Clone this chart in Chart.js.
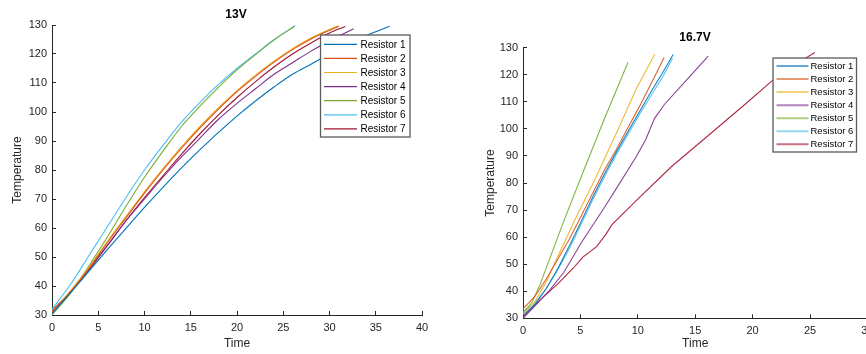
<!DOCTYPE html>
<html>
<head>
<meta charset="utf-8">
<script src="https://cdn.jsdelivr.net/npm/chart.js@4"></script>
<style>
  html, body { margin: 0; padding: 0; background: #fff; overflow: hidden; width: 866px; height: 354px; }
  #c13 { position: absolute; left: 0; top: 0; }
  #c167 { position: absolute; left: 440px; top: 0; }
</style>
</head>
<body>
<canvas id="c13" width="440" height="354"></canvas>
<canvas id="c167" width="450" height="354"></canvas>
<script>
const seriesNames = ["Resistor 1", "Resistor 2", "Resistor 3", "Resistor 4", "Resistor 5", "Resistor 6", "Resistor 7"];
const colors = ["#0072BD", "#D95319", "#EDB120", "#7E2F8E", "#77AC30", "#4DBEEE", "#A2142F"];

// 13V run
const t13_r1 = [0, 2, 4, 6, 8, 10, 12, 14, 16, 18, 20, 22, 24, 26, 28, 30, 32, 34, 36.5];
const v13_r1 = [30.5, 37.6, 45.1, 52.6, 59.9, 67.1, 74, 80.7, 87, 93, 98.6, 103.8, 108.6, 113, 116.5, 120, 123.3, 126.4, 129.6];
const t13_r2 = [0, 2, 4, 6, 8, 10, 12, 14, 16, 18, 20, 22, 24, 26, 28, 31];
const v13_r2 = [31, 38, 46, 55, 63.5, 72, 80, 87.5, 94.5, 101, 107, 112.3, 117.2, 121.5, 125.2, 129.6];
const t13_r3 = [0, 2, 4, 6, 8, 10, 12, 14, 16, 18, 20, 22, 24, 26, 28, 30.9];
const v13_r3 = [31.2, 38.3, 46.5, 55.5, 64, 72.5, 80.5, 88, 95, 101.5, 107.4, 112.7, 117.5, 121.8, 125.5, 129.7];
const t13_r4 = [0, 2, 4, 6, 8, 10, 12, 14, 16, 18, 20, 22, 24, 26, 28, 30, 32.6];
const v13_r4 = [30.5, 38, 46, 54, 62.5, 70, 77.5, 84.5, 91, 97.5, 103, 108, 113, 117, 121, 124.5, 128.7];
const t13_r5 = [0, 2, 4, 6, 8, 10, 12, 14, 16, 18, 20, 22, 24, 26.2];
const v13_r5 = [30, 37.5, 47, 57, 67.5, 77.5, 86.5, 95, 102, 108.5, 114.5, 119.8, 124.8, 129.5];
const t13_r6 = [0, 2, 4, 6, 8, 10, 12, 14, 16, 18, 20, 22, 24, 26.3];
const v13_r6 = [32, 40.5, 50.5, 60.5, 70.5, 80, 88.5, 96.5, 103.3, 109.5, 115, 120, 125, 129.8];
const t13_r7 = [0, 2, 4, 6, 8, 10, 12, 14, 16, 18, 20, 22, 24, 26, 28, 30, 31.7];
const v13_r7 = [31.5, 38, 45.5, 54, 62.5, 70.5, 78, 85.5, 92.5, 99, 105, 110.5, 115.5, 120, 123.8, 127.2, 129.5];

// 16.7V run
const t167_r1 = [0, 1.02, 2.03, 3.05, 4.07, 5.09, 6.1, 7.12, 8.14, 9.15, 10.17, 11.19, 12.2, 13.08];
const v167_r1 = [31, 35, 41, 48.5, 57, 66, 75, 83.5, 91.5, 99, 106.5, 114, 121, 127.5];
const t167_r2 = [0, 1.02, 2.03, 3.05, 4.07, 5.09, 6.1, 7.12, 8.14, 9.15, 10.17, 11.19, 12.29];
const v167_r2 = [33.5, 38, 44.5, 52, 59.5, 68, 76.5, 85, 92.5, 100.5, 108.5, 117, 126.4];
const t167_r3 = [0, 1.02, 2.03, 3.05, 4.51, 6.24, 8.14, 9.89, 11.48];
const v167_r3 = [31.5, 36, 43.5, 53, 66.3, 81.1, 98.5, 115, 127.6];
const t167_r4 = [0, 1.02, 2.34, 3.56, 5.09, 7.02, 8.14, 9.86, 10.68, 11.46, 12.35, 14.24, 16.13];
const v167_r4 = [30, 34.5, 40.5, 47, 58, 70.5, 78, 89.7, 96, 103.9, 109.2, 118, 126.9];
const t167_r5 = [0, 0.81, 1.53, 3.56, 5.09, 7.12, 9.15];
const v167_r5 = [32, 36, 43, 66, 82.5, 104, 124.6];
const t167_r6 = [0, 1.02, 2.03, 3.05, 4.07, 5.09, 6.1, 7.12, 8.14, 9.15, 10.17, 11.19, 12.2, 13.02];
const v167_r6 = [32.5, 35.5, 41, 48, 56, 65, 74, 82.5, 90.5, 98, 105.5, 112.5, 119.5, 126];
const t167_r7 = [0, 1.53, 3.05, 4.37, 5.19, 6.41, 7.22, 7.73, 9.86, 12.92, 16.27, 19.32, 21.76, 23.39, 25.43];
const v167_r7 = [30.5, 37, 42.8, 48.5, 52.5, 56.5, 61, 64.5, 73.5, 86, 98, 109, 118, 123, 128.2];

const xTicks13 = [0, 5, 10, 15, 20, 25, 30, 35, 40];
const xTicks167 = [0, 5, 10, 15, 20, 25, 30];
const yTicks = [30, 40, 50, 60, 70, 80, 90, 100, 110, 120, 130];

const FONT = "'Liberation Sans', Arial, Helvetica, sans-serif";
const INK = "#262626";

const toPoints = (t, v) => t.map((x, i) => ({ x: x, y: v[i] }));

// title + boxed legend, MATLAB style
const matlabDecor = {
  id: "matlabDecor",
  afterDraw(chart, args, opts) {
    const ctx = chart.ctx;
    ctx.save();
    ctx.fillStyle = "#000";
    ctx.font = "bold 12px " + FONT;
    ctx.textAlign = "center";
    ctx.textBaseline = "middle";
    ctx.fillText(opts.title, opts.titleX, opts.titleY);

    const lg = opts.legend;
    ctx.fillStyle = "#fff";
    ctx.fillRect(lg.x, lg.y, lg.w, lg.h);
    ctx.strokeStyle = "#5a5a5a";
    ctx.lineWidth = 1.3;
    ctx.strokeRect(lg.x, lg.y, lg.w, lg.h);
    ctx.font = lg.fontSize + "px " + FONT;
    ctx.textAlign = "left";
    chart.data.datasets.forEach((ds, i) => {
      const y = lg.firstY + i * lg.step;
      ctx.strokeStyle = lg.lineColor ? lg.lineColor(i) : ds.borderColor;
      ctx.lineWidth = lg.lineWidth;
      ctx.beginPath();
      ctx.moveTo(lg.x0, y);
      ctx.lineTo(lg.x1, y);
      ctx.stroke();
      ctx.fillStyle = "#000";
      ctx.fillText(ds.label, lg.textX, y + 0.5);
    });
    ctx.restore();
  }
};

function hexA(hex, a) {
  const n = parseInt(hex.slice(1), 16);
  return "rgba(" + ((n >> 16) & 255) + "," + ((n >> 8) & 255) + "," + (n & 255) + "," + a + ")";
}

function makeChart(id, sets, xMax, xTicks, yAxisW, pad, smooth, lineAlpha, yTitlePad, decor) {
  const datasets = sets.map((s, i) => ({
    label: seriesNames[i],
    data: toPoints(s[0], s[1]),
    borderColor: hexA(colors[i], lineAlpha),
    borderWidth: 1.1,
    pointRadius: 0,
    fill: false,
    cubicInterpolationMode: smooth ? "monotone" : "default",
    tension: 0,
  }));
  return new Chart(document.getElementById(id), {
    type: "line",
    data: { datasets: datasets },
    options: {
      responsive: false,
      animation: false,
      layout: { padding: pad },
      scales: {
        x: {
          type: "linear",
          min: 0,
          max: xMax,
          afterBuildTicks: (s) => { s.ticks = xTicks.map((v) => ({ value: v })); },
          afterFit: (s) => { s.height = pad.xAxisH; },
          border: { display: true, color: INK, width: 1 },
          grid: { drawOnChartArea: false, drawTicks: true, tickLength: -4, tickColor: INK },
          ticks: { color: INK, font: { family: FONT, size: 11 }, padding: 10, maxRotation: 0, autoSkip: false },
          title: { display: true, text: "Time", color: INK, font: { family: FONT, size: 12 }, padding: { top: 3, bottom: 3 } },
        },
        y: {
          type: "linear",
          min: 30,
          max: 130,
          afterBuildTicks: (s) => { s.ticks = yTicks.map((v) => ({ value: v })); },
          afterFit: (s) => { s.width = yAxisW; },
          border: { display: true, color: INK, width: 1 },
          grid: { drawOnChartArea: false, drawTicks: true, tickLength: -4, tickColor: INK },
          ticks: { color: INK, font: { family: FONT, size: 11 }, padding: 9, autoSkip: false },
          title: { display: true, text: "Temperature", color: INK, font: { family: FONT, size: 12 }, padding: { top: yTitlePad, bottom: yTitlePad } },
        },
      },
      plugins: {
        legend: { display: false },
        tooltip: { enabled: false },
        matlabDecor: decor,
      },
    },
    plugins: [matlabDecor],
  });
}

makeChart("c13",
  [[t13_r1, v13_r1], [t13_r2, v13_r2], [t13_r3, v13_r3], [t13_r4, v13_r4], [t13_r5, v13_r5], [t13_r6, v13_r6], [t13_r7, v13_r7]],
  40, xTicks13, 52, { top: 25, right: 18, left: 0, bottom: 0, xAxisH: 39 }, true, 1, 10,
  {
    title: "13V", titleX: 236, titleY: 15,
    legend: { x: 320.5, y: 35, w: 89.5, h: 102, firstY: 44.3, step: 14.1, x0: 324, x1: 357, textX: 360.5, fontSize: 10, lineWidth: 1.2 },
  });

makeChart("c167",
  [[t167_r1, v167_r1], [t167_r2, v167_r2], [t167_r3, v167_r3], [t167_r4, v167_r4], [t167_r5, v167_r5], [t167_r6, v167_r6], [t167_r7, v167_r7]],
  30, xTicks167, 83, { top: 47.7, right: 22.6, left: 0, bottom: 0, xAxisH: 35.7 }, false, 0.9, 43,
  {
    title: "16.7V", titleX: 255, titleY: 37.5,
    legend: { x: 333, y: 58, w: 83.5, h: 94, firstY: 66, step: 13.05, x0: 336.5, x1: 368.5, textX: 370.5, fontSize: 9.5, lineWidth: 2,
      lineColor: (i) => hexA(colors[i], 0.6) },
  });
</script>
</body>
</html>
